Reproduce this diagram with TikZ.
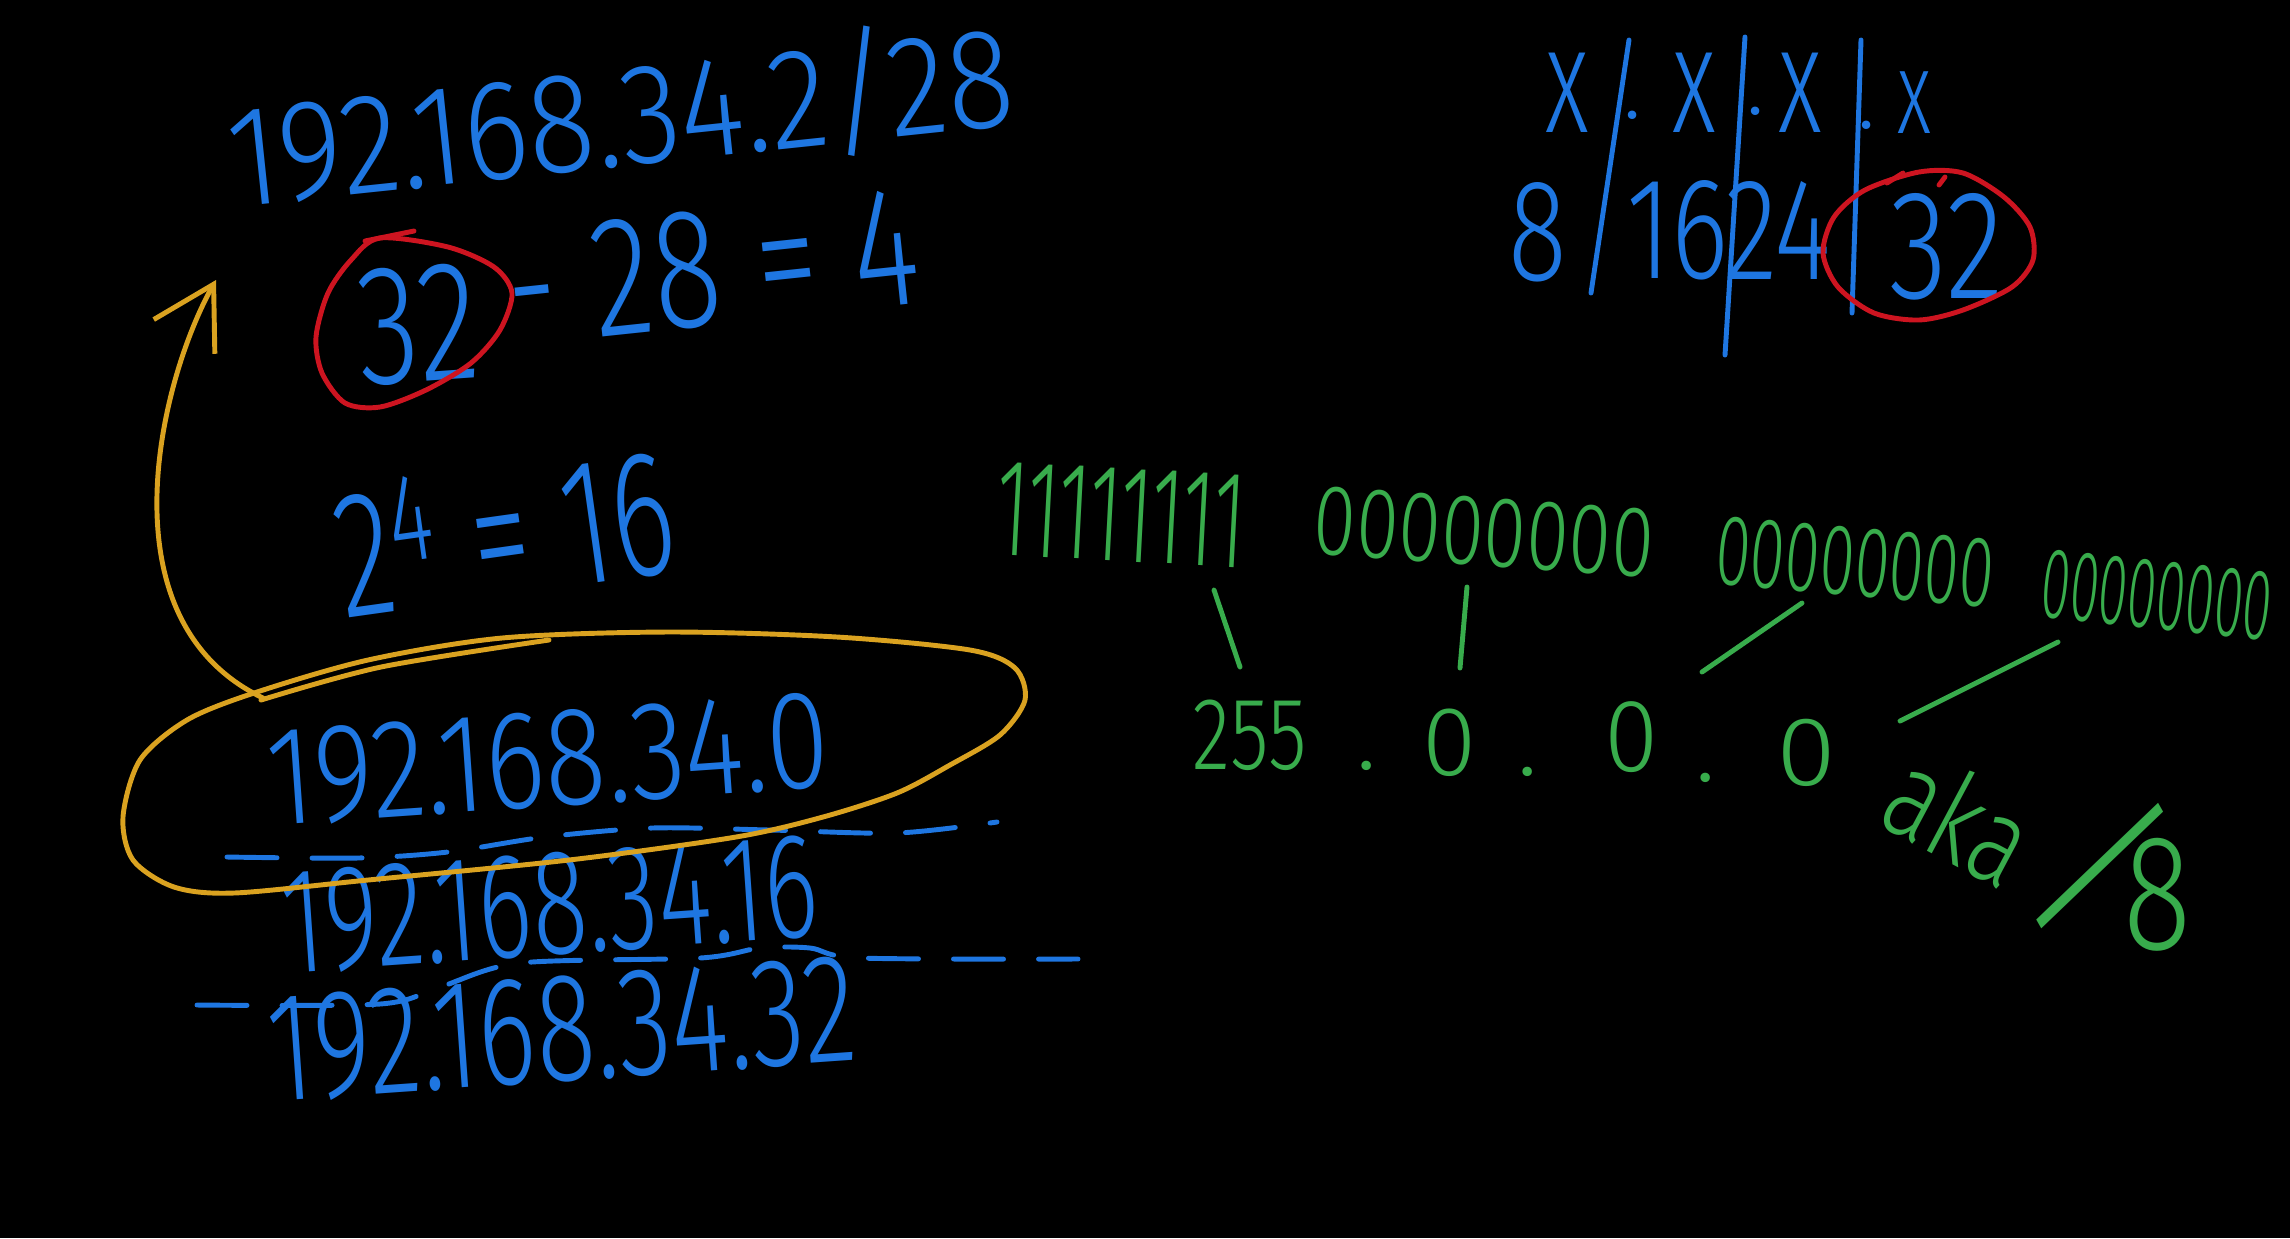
\documentclass[tikz,border=0pt]{standalone}
\usepackage{fontspec}
\usepackage{tikz}
\usetikzlibrary{positioning, calc, arrows.meta}
\newfontfamily\handfont{Fira Sans Light}
\definecolor{InkBlue}{RGB}{30,118,225}
\definecolor{InkRed}{RGB}{205,20,32}
\definecolor{InkYellow}{RGB}{218,162,32}
\definecolor{InkGreen}{RGB}{56,172,76}
\newcommand{\handsize}[1]{\fontsize{#1}{#1}\selectfont}
\tikzset{
    hand/.style={
        inner sep=0pt,
        transform shape
    },
    blue ink/.style={hand, text=InkBlue},
    green ink/.style={hand, text=InkGreen},
    pen/.style={line width=1.4pt, line cap=round, line join=round},
    blue pen/.style={pen, draw=InkBlue},
    red pen/.style={pen, draw=InkRed},
    yellow pen/.style={pen, draw=InkYellow},
    green pen/.style={pen, draw=InkGreen},
    hand dash/.style={dash pattern=on 5mm off 3.5mm}
}

\begin{document}
\begin{tikzpicture}[x=0.01cm, y=-0.01cm]

% Board
\fill[black] (0,0) rectangle (2290,1238);
\useasboundingbox (0,0) rectangle (2290,1238);

% --- Given address and block size ---
\node[blue ink, font=\handfont\handsize{28}, rotate=6, xscale=1.26, yscale=1.45] (ip_given) at (620,116) {192.168.34.2/28};
\node[blue ink, font=\handfont\handsize{36}, rotate=4, yscale=1.35] (n_32) at (418,325) {32};
\node[blue ink, font=\handfont\handsize{36}, rotate=6, yscale=1.35] (eq_sub) at (712,268) {- 28 = 4};
\node[blue ink, font=\handfont\handsize{34}, rotate=8, yscale=1.5] (eq_pow) at (504,530) {2\textsuperscript{4} = 16};

% Red ring round 32
\draw[red pen] plot[smooth cycle] coordinates {(380,238) (448,247) (494,267) (512,293) (500,330) (471,363) (426,390) (380,407) (345,403) (322,373) (316,337) (328,293) (351,260)};
\draw[red pen] (365,241) -- (414,231);

% --- Subnets ---
\node[blue ink, font=\handfont\handsize{25}, rotate=4, xscale=1.3, yscale=1.6] (ip_net0) at (548,760) {192.168.34.0};
\node[blue ink, font=\handfont\handsize{22.5}, rotate=4, xscale=1.3, yscale=1.9] (ip_net16) at (550,905) {192.168.34.16};
\node[blue ink, font=\handfont\handsize{24.5}, rotate=4, xscale=1.28, yscale=1.8] (ip_net32) at (562,1030) {192.168.34.32};

% Dashed separators
\draw[blue pen, hand dash] plot[smooth] coordinates {(227,857) (358,858) (448,852) (545,837) (652,828) (770,830) (897,833) (997,822)};
\draw[blue pen, hand dash] plot[smooth] coordinates {(197,1005) (380,1004) (440,987) (520,963) (700,958) (760,948) (810,948) (860,958) (1078,959)};

% Yellow loop and arrow
\draw[yellow pen] plot[smooth cycle] coordinates {(254,693) (368,660) (502,638) (669,632) (837,637) (970,650) (1015,668) (1025,700) (1000,735) (950,765) (897,793) (823,817) (736,837) (569,860) (368,880) (234,893) (174,887) (133,860) (123,817) (140,760) (187,720)};
\draw[yellow pen] plot[smooth] coordinates {(261,700) (381,667) (549,640)};
\coordinate (loop_tip) at (263,698);
\coordinate (arrow_end) at (216,280);
\draw[yellow pen, -{Straight Barb[length=6mm, width=7mm]}] (loop_tip) .. controls (100,620) and (160,380) .. (arrow_end);

% --- Octet table ---
\node[blue ink, font=\handfont\handsize{27}, yscale=1.6] (x_a) at (1567,93) {x};
\node[blue ink, font=\handfont\handsize{25}] (dot_a) at (1633,115) {.};
\node[blue ink, font=\handfont\handsize{27}, yscale=1.6] (x_b) at (1694,93) {x};
\node[blue ink, font=\handfont\handsize{25}] (dot_b) at (1756,111) {.};
\node[blue ink, font=\handfont\handsize{27}, yscale=1.6] (x_c) at (1800,93) {x};
\node[blue ink, font=\handfont\handsize{25}] (dot_c) at (1867,125) {.};
\node[blue ink, font=\handfont\handsize{21}, yscale=1.6] (x_d) at (1914,103) {x};

\node[blue ink, font=\handfont\handsize{31}, yscale=1.33] (oct_8) at (1538,232) {8};
\node[blue ink, font=\handfont\handsize{31}, yscale=1.33] (oct_16) at (1678,230) {16};
\node[blue ink, font=\handfont\handsize{31}, yscale=1.33] (oct_24) at (1778,230) {24};
\node[blue ink, font=\handfont\handsize{34}, yscale=1.3] (oct_32) at (1947,247) {32};

\draw[blue pen] (1629,40) -- (1591,293);
\draw[blue pen] (1745,37) -- (1725,355);
\draw[blue pen] (1861,40) -- (1852,313);

% Red ring round /32
\draw[red pen] plot[smooth cycle] coordinates {(1919,172) (1963,173) (2004,197) (2030,227) (2033,260) (2012,287) (1963,310) (1919,320) (1874,313) (1838,287) (1823,253) (1834,217) (1865,190)};
\draw[red pen] (1887,183) -- (1903,173);
\draw[red pen] (1939,185) -- (1945,177);

% --- Mask in binary ---
\node[green ink, font=\handfont\handsize{22}, rotate=-3, yscale=1.8] (bin_a) at (1121,515) {11111111};
\node[green ink, font=\handfont\handsize{22}, rotate=-4, yscale=1.3] (bin_b) at (1484,532) {00000000};
\node[green ink, font=\handfont\handsize{22}, rotate=-5, xscale=0.82, yscale=1.3] (bin_c) at (1855,562) {00000000};
\node[green ink, font=\handfont\handsize{22}, rotate=-6, xscale=0.68, yscale=1.3] (bin_d) at (2157,595) {00000000};

% Mask in decimal
\node[green ink, font=\handfont\handsize{22.5}, yscale=1.3] (mask_a) at (1250,735) {255};
\node[green ink, font=\handfont\handsize{28}] (mdot_a) at (1367,766) {.};
\node[green ink, font=\handfont\handsize{28}] (mask_b) at (1450,743) {0};
\node[green ink, font=\handfont\handsize{28}] (mdot_b) at (1528,772) {.};
\node[green ink, font=\handfont\handsize{28}, yscale=1.05] (mask_c) at (1632,737) {0};
\node[green ink, font=\handfont\handsize{28}] (mdot_c) at (1706,778) {.};
\node[green ink, font=\handfont\handsize{31}, yscale=0.9] (mask_d) at (1806,753) {0};

\draw[green pen] ($(bin_a)+(93,75)$) -- ($(mask_a)+(-10,-68)$);
\draw[green pen] ($(bin_b)+(-17,55)$) -- ($(mask_b)+(10,-75)$);
\draw[green pen] ($(bin_c)+(-53,41)$) -- ($(mask_c)+(70,-65)$);
\draw[green pen] ($(bin_d)+(-99,47)$) -- ($(mask_d)+(94,-32)$);

\node[green ink, font=\handfont\handsize{27}, rotate=-28, yscale=1.3] (aka) at (1960,817) {aka};
\node[green ink, font=\handfont\handsize{36}, yscale=1.3] (prefix) at (2106,866) {\raisebox{0.2em}{\scalebox{1.3}{\rotatebox[origin=c]{-39}{/}}}\kern-0.45em\raisebox{0.15em}{8}};

\end{tikzpicture}
\end{document}
